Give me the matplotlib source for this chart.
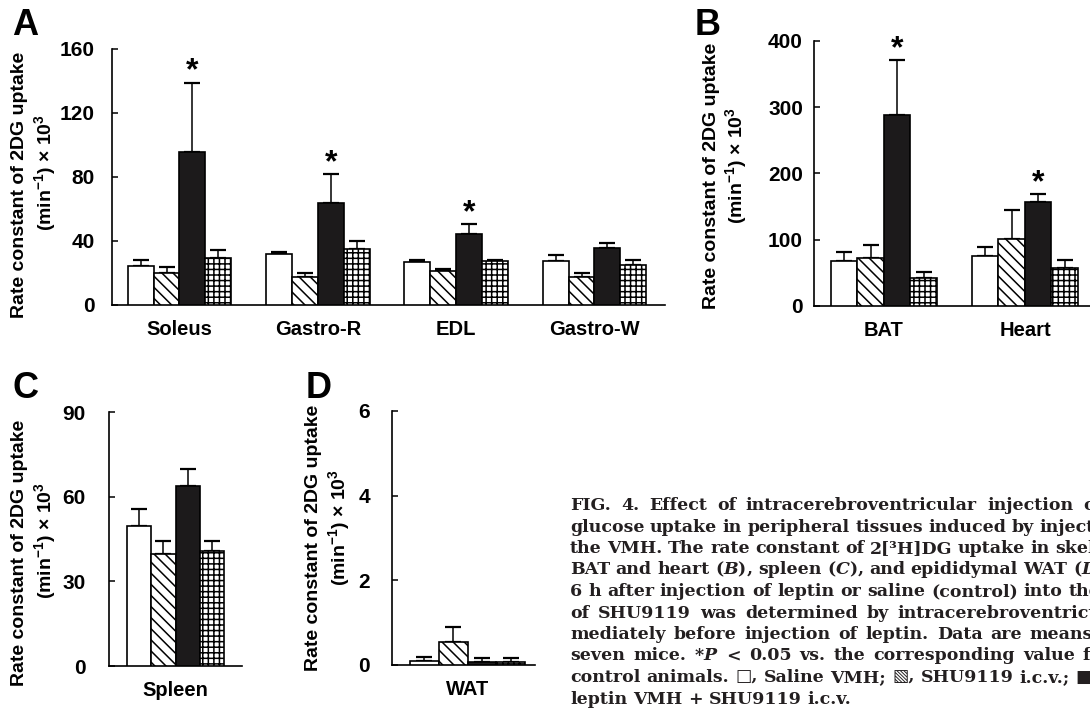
import numpy as np
import matplotlib
matplotlib.use('Agg')
import matplotlib.pyplot as plt

# ---- data ----
groups_a = ['Soleus', 'Gastro-R', 'EDL', 'Gastro-W']
saline_a = [24.5, 32, 27, 27.5]
saline_a_err = [3.5, 1, 1, 4]
shu_a = [20, 17.5, 21.5, 17.5]
shu_a_err = [4, 2.5, 1, 2.5]
leptin_a = [95.5, 64, 44.5, 35.5]
leptin_a_err = [43.5, 18, 6, 3.5]
combo_a = [29.5, 35, 27.5, 25]
combo_a_err = [5, 5, 0.5, 3]
stars_a = [True, True, True, False]

groups_b = ['BAT', 'Heart']
saline_b = [68, 76]
saline_b_err = [14, 13.5]
shu_b = [73, 101]
shu_b_err = [18.5, 44]
leptin_b = [289, 157.5]
leptin_b_err = [82, 11]
combo_b = [42, 58]
combo_b_err = [10, 11]
stars_b = [True, True]

groups_c = ['Spleen']
saline_c, saline_c_err = [49.6], [6.2]
shu_c, shu_c_err = [39.6], [4.7]
leptin_c, leptin_c_err = [63.7], [6]
combo_c, combo_c_err = [40.8], [3.5]

groups_d = ['WAT']
saline_d, saline_d_err = [0.1], [0.1]
shu_d, shu_d_err = [0.55], [0.35]
leptin_d, leptin_d_err = [0.07], [0.09]
combo_d, combo_d_err = [0.08], [0.09]

caption_lines = [
    'FIG. 4. Effect of intracerebroventricular injection of SHU9119 on',
    'glucose uptake in peripheral tissues induced by injection of leptin into',
    'the VMH. The rate constant of 2[\u00b3H]DG uptake in skeletal muscle ($\\mathit{A}$),',
    'BAT and heart ($\\mathit{B}$), spleen ($\\mathit{C}$), and epididymal WAT ($\\mathit{D}$) was',
    '6 h after injection of leptin or saline (control) into the VMH.',
    'of SHU9119 was determined by intracerebroventricular injection im-',
    'mediately before injection of leptin. Data are means \u00b1 SE of six or',
    'seven mice. *$\\mathit{P}$ < 0.05 vs. the corresponding value for saline-injected',
    'control animals. \u25a1, Saline VMH; \u25a7, SHU9119 i.c.v.; \u25a0, Leptin VMH;',
    'leptin VMH + SHU9119 i.c.v.',
]
caption_gaps = [10, 5.5, 5.5, 5.5, 6, 9, 8, 8, 6, 6]

ylab1 = 'Rate constant of 2DG uptake'
ylab2 = '(min$^{-1}$) \u00d7 10$^{3}$'

plt.rcParams['font.family'] = ['Liberation Sans', 'DejaVu Sans']
plt.rcParams['font.weight'] = 'bold'
plt.rcParams['mathtext.fontset'] = 'custom'
plt.rcParams['mathtext.rm'] = 'Liberation Sans'
plt.rcParams['mathtext.it'] = 'DejaVu Serif:italic:bold'
plt.rcParams['mathtext.bf'] = 'Liberation Sans:bold'
plt.rcParams['hatch.linewidth'] = 1.1
plt.rcParams['hatch.color'] = 'black'

W, H = 1090, 708
fig = plt.figure(figsize=(W / 100, H / 100), dpi=100)


def px_axes(left, right, top, bottom):
    return fig.add_axes([left / W, 1 - bottom / H, (right - left) / W, (bottom - top) / H])


styles = [dict(color='white', hatch=None),
          dict(color='white', hatch='\\\\\\'),
          dict(color='#1c1a1b', hatch=None),
          dict(color='white', hatch='+++')]


def panel(ax, groups, series, errs, width, xlim, ylim, yticks, pad, stars=None):
    x = np.arange(len(groups))
    for k, (vals, err) in enumerate(zip(series, errs)):
        pos = x + (k - 1.5) * width
        ax.bar(pos, vals, width, facecolor=styles[k]['color'], edgecolor='black',
               hatch=styles[k]['hatch'], linewidth=1.2, zorder=3)
        ax.errorbar(pos, vals, yerr=[np.zeros(len(vals)), err], fmt='none',
                    ecolor='black', elinewidth=1.1, capsize=5.5, capthick=1.6, zorder=2)
        if k == 2 and stars is not None:
            for p, v, e, s in zip(pos, vals, err, stars):
                if s:
                    ax.annotate('*', xy=(p, v + e), xytext=(0, 3), textcoords='offset pixels',
                                ha='center', va='baseline', fontsize=23, fontweight='bold')
    ax.set_xlim(*xlim)
    ax.set_ylim(*ylim)
    ax.set_yticks(yticks)
    ax.set_xticks(x)
    ax.set_xticklabels(groups, fontsize=14.5, fontweight='bold')
    ax.tick_params(axis='x', length=0, pad=11)
    ax.tick_params(axis='y', direction='in', length=4, width=1.1, labelsize=15, pad=pad)
    for s in ['top', 'right']:
        ax.spines[s].set_visible(False)
    for s in ['left', 'bottom']:
        ax.spines[s].set_linewidth(1.2)
    ax.set_facecolor('none')


ax_a = px_axes(111.7, 665, 49, 305)
panel(ax_a, groups_a, [saline_a, shu_a, leptin_a, combo_a],
      [saline_a_err, shu_a_err, leptin_a_err, combo_a_err],
      0.187, (-0.49, 3.51), (0, 160), [0, 40, 80, 120, 160], 12, stars_a)

ax_b = px_axes(814, 1090, 41, 306)
panel(ax_b, groups_b, [saline_b, shu_b, leptin_b, combo_b],
      [saline_b_err, shu_b_err, leptin_b_err, combo_b_err],
      0.188, (-0.496, 1.461), (0, 400), [0, 100, 200, 300, 400], 8, stars_b)

ax_c = px_axes(109, 242, 412, 666)
panel(ax_c, groups_c, [saline_c, shu_c, leptin_c, combo_c],
      [saline_c_err, shu_c_err, leptin_c_err, combo_c_err],
      0.176, (-0.482, 0.482), (0, 90), [0, 30, 60, 90], 17)

ax_d = px_axes(392, 535, 411, 665)
panel(ax_d, groups_d, [saline_d, shu_d, leptin_d, combo_d],
      [saline_d_err, shu_d_err, leptin_d_err, combo_d_err],
      0.209, (-0.547, 0.489), (0, 6), [0, 2, 4, 6], 16)

# y labels (two lines each) and panel letters
for (x1, x2, yc1, yc2) in [(20, 45, 185, 172), (711, 736, 176, 165),
                           (20, 45, 553, 540), (313, 339, 538, 527)]:
    fig.text(x1 / W, 1 - yc1 / H, ylab1, rotation=90, ha='center', va='center',
             fontsize=14, fontweight='bold')
    fig.text(x2 / W, 1 - yc2 / H, ylab2, rotation=90, ha='center', va='center',
             fontsize=14, fontweight='bold')

for letter, lx, ly in [('A', 12, 35), ('B', 695, 35), ('C', 13, 398), ('D', 306, 398)]:
    fig.text(lx / W, 1 - ly / H, letter, ha='left', va='baseline', fontsize=26, fontweight='bold')

# caption, word by word so the wide justified spacing can be imitated;
# the column runs past the right edge of the picture, as in the original
renderer = fig.canvas.get_renderer()
cap_kw = dict(family=['DejaVu Serif', 'DejaVu Sans'], fontweight='bold', fontsize=12.5,
              color='#231f20', va='baseline')
for i, (line, gap) in enumerate(zip(caption_lines, caption_gaps)):
    xx = 570
    yy = 1 - (510 + 21.5 * i) / H
    for word in line.split(' '):
        if xx >= W:
            break
        t = fig.text(xx / W, yy, word, **cap_kw)
        xx += t.get_window_extent(renderer).width + gap

fig.savefig('out.png', dpi=100)
